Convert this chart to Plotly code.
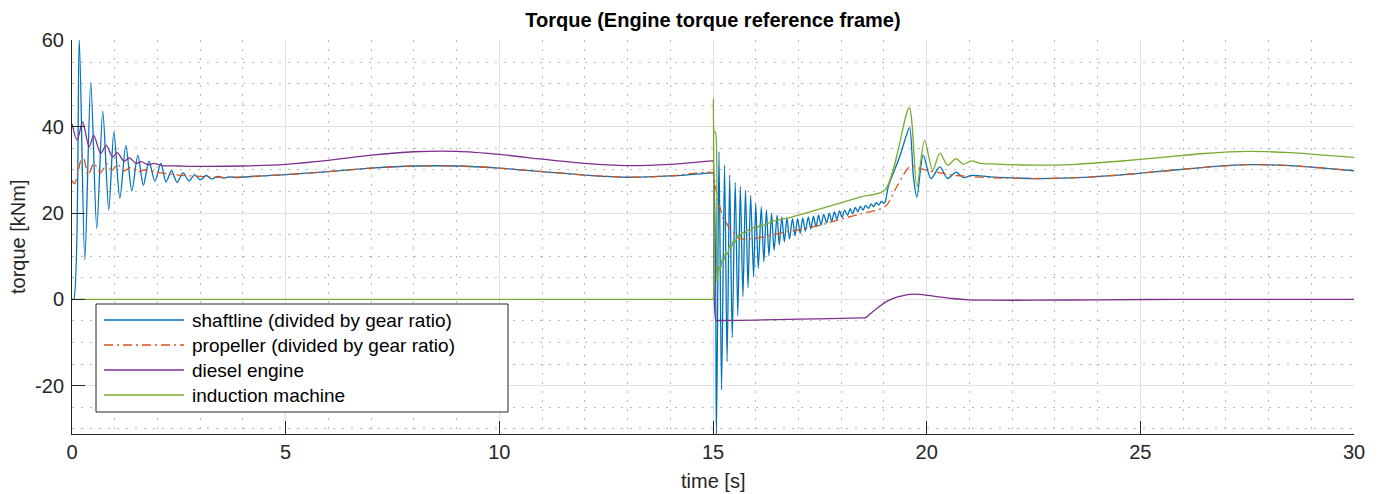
import plotly.graph_objects as go

# ---- time histories (time in s, torque in kNm) ----
shaft_t = [0, 0.04, 0.17, 0.30, 0.44, 0.58, 0.72, 0.86, 0.98, 1.12, 1.26, 1.40, 1.54, 1.67,
           1.80, 1.94, 2.08, 2.20, 2.33, 2.46, 2.60, 2.74, 2.87, 3.00, 3.14, 3.27, 3.41, 3.55,
           3.70, 3.85,
           4, 5, 6, 7, 8, 9, 10, 11, 12, 13, 14, 14.98, 15.0,
           15.08, 15.14, 15.20, 15.27, 15.33, 15.39, 15.45, 15.52, 15.58, 15.64, 15.70, 15.76,
           15.82, 15.88, 15.95, 16.00, 16.06, 16.13, 16.19, 16.25, 16.31, 16.37, 16.43, 16.50,
           16.55, 16.61, 16.67, 16.73, 16.79, 16.86, 16.92, 16.98, 17.04,
           17.10, 17.16, 17.23, 17.29, 17.35, 17.41, 17.47, 17.53, 17.59, 17.66, 17.72, 17.78,
           17.84, 17.90, 17.96, 18.02, 18.08, 18.15, 18.21, 18.27, 18.33, 18.39, 18.45, 18.51,
           18.57, 18.64, 18.70, 18.76, 18.82, 18.88, 18.94, 19.00, 19.03,
           19.10, 19.22, 19.38, 19.49, 19.60, 19.69, 19.77, 19.92, 20.10, 20.31, 20.49, 20.69,
           20.86, 21.05, 21.5, 22.5, 23.5, 24.5, 25.5, 26.5, 27.5, 28.5, 29.3, 30]
shaft_q = [0, 0, 60.1, 9.1, 50.3, 16.4, 43.6, 20.7, 38.8, 23.4, 35.7, 25.1, 33.4, 26.4,
           32.0, 27.4, 31.5, 27.2, 29.8, 27.1, 29.3, 27.4, 28.9, 27.7, 28.7, 27.9, 28.5, 28.1,
           28.4, 28.2,
           28.35, 28.9, 29.6, 30.4, 30.9, 30.9, 30.4, 29.6, 28.8, 28.3, 28.6, 29.3, 29.3,
           -31.2, 34.2, -21.0, 31.1, -14.4, 28.8, -8.9, 27.1, -3.8, 26.1, 0.6, 25.3,
           2.7, 24.1, 5.2, 22.2, 7.2, 21.4, 8.7, 20.7, 10.1, 19.9, 11.4, 19.5,
           12.6, 19.1, 13.3, 18.9, 14.0, 18.7, 14.7, 18.7, 15.3,
           18.9, 15.8, 19.1, 16.3, 19.3, 16.8, 19.5, 17.2, 19.7, 17.7, 20.0, 18.1,
           20.25, 18.55, 20.5, 19.0, 20.7, 19.5, 21.0, 19.85, 21.3, 20.3, 21.55, 20.7,
           21.8, 21.1, 22.1, 21.5, 22.4, 21.85, 22.7, 22.25, 22.6,
           26.1, 29.2, 33.4, 36.9, 39.8, 28.4, 23.7, 33.4, 28.0, 30.7, 28.0, 29.5,
           28.2, 28.7, 28.4, 28.0, 28.2, 28.8, 29.7, 30.6, 31.2, 31.0, 30.4, 29.8]

prop_t = [0, 0.06, 0.25, 0.38, 0.51, 0.67, 0.82, 0.94, 1.06, 1.22, 1.38, 1.53, 1.70, 2.0,
          2.5, 3.0, 3.5,
          4, 5, 6, 7, 8, 9, 10, 11, 12, 13, 14, 15.0,
          15.03, 15.12, 15.18, 15.24, 15.30, 15.36, 15.44, 15.52, 15.60, 15.83, 16.06, 16.37,
          16.76, 17.12, 17.58, 18.0, 18.44, 19.03, 19.3, 19.61, 19.8, 20.0, 20.31, 20.7,
          21.5, 22.5, 23.5, 24.5, 25.5, 26.5, 27.5, 28.5, 29.3, 30]
prop_q = [27.5, 26.8, 33.4, 28.8, 31.5, 29.4, 31.4, 29.9, 31.3, 29.8, 30.6, 29.6, 30.0, 29.4,
          28.8, 28.5, 28.3,
          28.4, 28.9, 29.6, 30.4, 30.9, 30.9, 30.4, 29.6, 28.8, 28.3, 28.6, 29.3,
          28.0, 22.6, 20.8, 18.7, 18.0, 16.8, 16.0, 14.9, 14.1, 14.0, 14.3, 14.9,
          15.7, 16.3, 17.4, 18.6, 19.8, 21.5, 26.1, 30.8, 30.5, 29.9, 29.3, 28.7,
          28.2, 28.0, 28.2, 28.8, 29.7, 30.6, 31.2, 31.0, 30.4, 29.8]

diesel_t = [0, 0.12, 0.25, 0.40, 0.51, 0.67, 0.80, 0.95, 1.06, 1.22, 1.34, 1.50, 1.62, 1.78,
            1.92, 2.1, 2.5, 3,
            4, 5, 6, 7, 8, 9, 10, 11, 12, 13, 14, 14.98, 15.0,
            15.07, 15.12, 16, 17, 18, 18.5, 18.56, 18.7, 18.9, 19.1, 19.3, 19.5, 19.7, 19.9,
            20.2, 20.6, 21.0, 21.5, 22.5, 24, 26, 30]
diesel_q = [40.7, 36.9, 41.1, 35.3, 38.0, 33.8, 35.7, 33.0, 34.0, 32.0, 32.8, 31.5, 31.9, 31.2,
            31.5, 31.0, 30.9, 30.8,
            30.9, 31.3, 32.2, 33.4, 34.2, 34.3, 33.6, 32.5, 31.5, 31.0, 31.3, 32.1, 32.1,
            -4.9, -4.9, -4.8, -4.6, -4.4, -4.3, -4.3, -3.2, -1.6, -0.3, 0.5, 1.0, 1.2, 1.1,
            0.7, 0.2, -0.1, -0.2, -0.2, -0.1, 0, 0]

im_t = [0, 14.99, 15.0, 15.01, 15.03, 15.06, 15.09, 15.14, 15.17, 15.22, 15.25, 15.30, 15.34,
        15.39, 15.43, 15.48, 15.52, 15.57, 15.62, 15.68, 15.74, 15.80, 15.87, 15.95, 16.02,
        16.12, 16.20, 16.37, 16.77, 17.15, 18.44, 19.03, 19.59, 19.77, 19.95, 20.14, 20.31,
        20.49, 20.69, 20.86, 21.05, 21.25, 21.5, 22.5, 23.5, 24.5, 25.5, 26.5, 27.5, 28.5,
        29.3, 30]
im_q = [0, 0, 0, 46.5, 38.8, 38.6, 4.1, 7.5, 6.8, 9.5, 8.9, 11.0, 10.4,
        12.6, 12.0, 13.6, 13.2, 14.7, 14.3, 15.5, 15.2, 16.1, 15.9, 16.7, 16.5,
        17.3, 17.2, 18.0, 18.9, 19.9, 23.7, 25.4, 44.4, 26.1, 36.9, 29.9, 33.9,
        31.1, 32.6, 31.3, 32.1, 31.5, 31.4, 31.1, 31.3, 32.0, 32.9, 33.8, 34.3, 34.0,
        33.4, 32.9]

series_names = ["shaftline (divided by gear ratio)", "propeller (divided by gear ratio)",
                "diesel engine", "induction machine"]
series_colors = ["#0072BD", "#D95319", "#7E2F8E", "#77AC30"]
series_dash = ["solid", "9px,4px,2px,4px", "solid", "solid"]

x_ticks = [0, 5, 10, 15, 20, 25, 30]
y_ticks = [-20, 0, 20, 40, 60]
y_ticktext = ["-20", "0", "20", "40", "60"]

# ---- figure geometry ----
W, H = 1381, 494
ML, MR, MT, MB = 72, 27, 40, 60
PW, PH = W - ML - MR, H - MT - MB
FONT = "Liberation Sans, Arial, Helvetica, sans-serif"
INK = "#262626"


def px_x(px):
    return (px - ML) / PW


def px_y(py):
    return (H - MB - py) / PH


fig = go.Figure()
data = [(shaft_t, shaft_q), (prop_t, prop_q), (diesel_t, diesel_q), (im_t, im_q)]
for (t, q), name, col, dash in zip(data, series_names, series_colors, series_dash):
    fig.add_trace(go.Scatter(x=t, y=q, mode="lines", name=name, showlegend=False,
                             line=dict(color=col, width=1.3, dash=dash, shape="spline",
                                       smoothing=0.8),
                             hoverinfo="skip"))

axis_common = dict(
    showgrid=True, gridcolor="#e0e0e0", gridwidth=1,
    ticks="inside", ticklen=13, tickwidth=1, tickcolor=INK,
    showline=True, linecolor=INK, linewidth=1, mirror=False,
    zeroline=False,
    tickfont=dict(family=FONT, size=20, color=INK),
)
minor_grid = dict(showgrid=True, gridcolor="#b8b8b8", griddash="2px,7px", gridwidth=1)

fig.update_xaxes(range=[0, 30], tickvals=x_ticks, **axis_common,
                 minor=dict(dtick=1, **minor_grid))
fig.update_yaxes(range=[-31.2, 60.1], tickvals=y_ticks, ticktext=y_ticktext, **axis_common,
                 ticklabelstandoff=3, minor=dict(dtick=5, **minor_grid))

# legend box drawn in plot-paper coordinates
shapes = [dict(type="rect", xref="paper", yref="paper",
               x0=px_x(96), x1=px_x(508), y0=px_y(412), y1=px_y(304),
               line=dict(color=INK, width=1), fillcolor="white", layer="above")]
annotations = []
rows_py = [320, 345, 370, 395]
for py, name, col, dash in zip(rows_py, series_names, series_colors, series_dash):
    shapes.append(dict(type="line", xref="paper", yref="paper",
                       x0=px_x(104), x1=px_x(184), y0=px_y(py), y1=px_y(py),
                       line=dict(color=col, width=1.3, dash=dash), layer="above"))
    annotations.append(dict(text=name, xref="paper", yref="paper",
                            x=px_x(190), y=px_y(py), xanchor="left", yanchor="middle",
                            showarrow=False, font=dict(family=FONT, size=19, color="black")))

annotations.append(dict(text="time [s]", xref="paper", yref="paper", x=0.5, y=px_y(481),
                        xanchor="center", yanchor="middle", showarrow=False,
                        font=dict(family=FONT, size=20, color=INK)))
annotations.append(dict(text="torque [kNm]", xref="paper", yref="paper", x=px_x(18), y=0.5,
                        xanchor="center", yanchor="middle", textangle=-90, showarrow=False,
                        font=dict(family=FONT, size=20, color=INK)))

fig.update_layout(
    width=W, height=H,
    margin=dict(l=ML, r=MR, t=MT, b=MB, pad=0),
    paper_bgcolor="white", plot_bgcolor="white",
    title=dict(text="Torque (Engine torque reference frame)", x=0.5, xref="paper",
               y=1 - 20 / H, yref="container", xanchor="center", yanchor="middle",
               font=dict(family=FONT, size=20, color="black", weight="bold")),
    shapes=shapes, annotations=annotations,
    hovermode=False, showlegend=False,
)

fig.write_html("out.html")
